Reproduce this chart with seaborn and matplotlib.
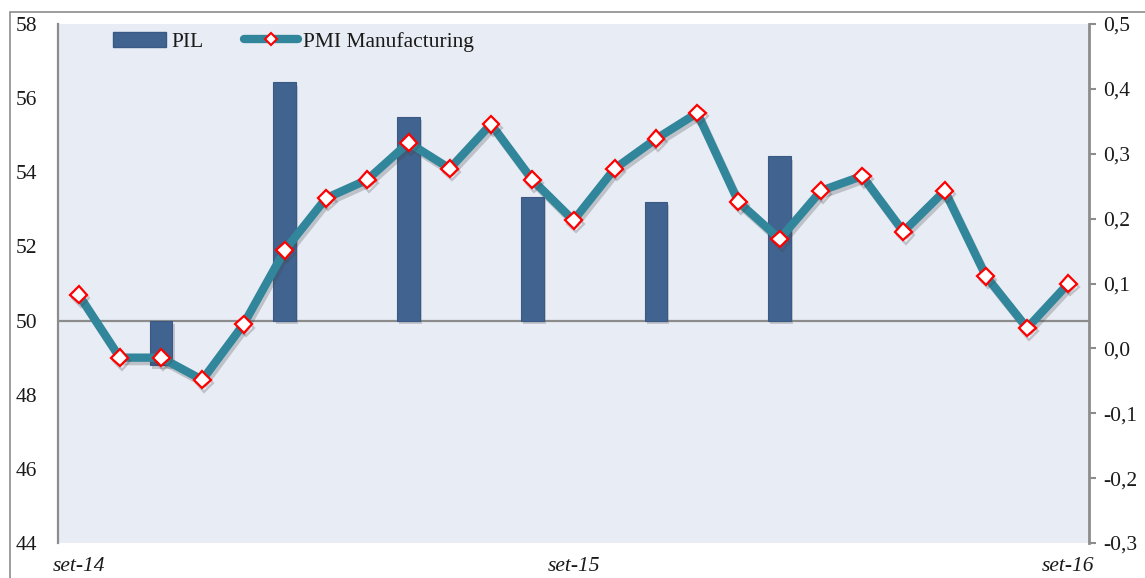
import numpy as np
import pandas as pd
import matplotlib
matplotlib.use("Agg")
import matplotlib.pyplot as plt
import matplotlib.patheffects as pe
from matplotlib.patches import Rectangle
from matplotlib.lines import Line2D
from matplotlib.ticker import FuncFormatter
import seaborn as sns

# ---- data ----
months = ["set-14", "ott-14", "nov-14", "dic-14", "gen-15", "feb-15", "mar-15", "apr-15",
          "mag-15", "giu-15", "lug-15", "ago-15", "set-15", "ott-15", "nov-15", "dic-15",
          "gen-16", "feb-16", "mar-16", "apr-16", "mag-16", "giu-16", "lug-16", "ago-16", "set-16"]
pmi = [50.7, 49.0, 49.0, 48.4, 49.9, 51.9, 53.3, 53.8, 54.8, 54.1, 55.3, 53.8, 52.7,
       54.1, 54.9, 55.6, 53.2, 52.2, 53.5, 53.9, 52.4, 53.5, 51.2, 49.8, 51.0]
pil_months = ["nov-14", "feb-15", "mag-15", "ago-15", "nov-15", "feb-16"]
pil = [-0.026, 0.41, 0.357, 0.234, 0.226, 0.296]
xtick_labels = ["set-14", "set-15", "set-16"]
left_ticks = [44, 46, 48, 50, 52, 54, 56, 58]
right_ticks = [-0.3, -0.2, -0.1, 0.0, 0.1, 0.2, 0.3, 0.4, 0.5]

sns.set_style("white")
plt.rcParams["font.family"] = ["Liberation Serif", "DejaVu Serif"]
FS = 15.5
TXT = "#1a1a1a"

W, H = 1145, 578
fig = plt.figure(figsize=(W / 100, H / 100), dpi=100)
left, right, bottom, top = 58, 1089, 543, 24
ax = fig.add_axes([left / W, 1 - bottom / H, (right - left) / W, (bottom - top) / H])
ax2 = ax.twinx()
ax.set_zorder(2)
ax2.set_zorder(1)
ax.patch.set_visible(False)
ax2.patch.set_visible(True)
ax2.patch.set_facecolor("#E8ECF4")

lmin, lmax = 44, 58
rmin, rmax = -0.3, 0.5
ax.set_ylim(lmin, lmax)
ax2.set_ylim(rmin, rmax)
ax.set_xlim(-0.5, len(months) - 0.5)

x_pos = {m: i for i, m in enumerate(months)}
# baseline for bars: where left-axis 50 sits on the right scale
baseline = rmin + (50 - lmin) / (lmax - lmin) * (rmax - rmin)

bar_color = "#41638F"
bx = [x_pos[m] for m in pil_months]
bars = ax2.bar(bx, [v - baseline for v in pil], bottom=baseline, width=0.55,
               color=bar_color, edgecolor="#3A5A85", linewidth=0.8, zorder=3)
for b in bars:
    b.set_path_effects([pe.SimplePatchShadow(offset=(1.5, -2.5), alpha=0.25, shadow_rgbFace="#555555"),
                        pe.Normal()])

# horizontal line at 50
ax2.axhline(baseline, color="#8C8C8C", lw=1.6, zorder=2)

df = pd.DataFrame({"x": np.arange(len(months)), "pmi": pmi})
line_color = "#31869B"
sns.lineplot(data=df, x="x", y="pmi", ax=ax, color=line_color, lw=6.0,
             marker="D", markersize=8.6, markerfacecolor="white",
             markeredgecolor="#FF0000", markeredgewidth=1.6, zorder=5,
             legend=False,
             path_effects=[pe.SimpleLineShadow(offset=(1.5, -2.5), alpha=0.25, shadow_color="#444444"),
                           pe.Normal()])

# axes styling
for s in ["top", "bottom"]:
    ax.spines[s].set_visible(False)
    ax2.spines[s].set_visible(False)
ax.spines["right"].set_visible(False)
ax2.spines["left"].set_visible(False)
ax.spines["left"].set_color("#8C8C8C")
ax.spines["left"].set_linewidth(1.6)
ax2.spines["right"].set_color("#8C8C8C")
ax2.spines["right"].set_linewidth(2.0)

ax.set_yticks(left_ticks)
ax.set_yticklabels([str(t) for t in left_ticks])
ax.tick_params(axis="y", left=False, length=0, pad=15, labelsize=FS, labelcolor=TXT)
ax2.set_yticks(right_ticks)
ax2.yaxis.set_major_formatter(FuncFormatter(lambda v, p: f"{v:.1f}".replace(".", ",").replace("-0,0", "0,0")))
ax2.tick_params(axis="y", right=True, length=5, width=1.5, color="#8C8C8C", pad=5,
                labelsize=FS, labelcolor=TXT)

ax.set_xticks([x_pos[m] for m in xtick_labels])
ax.set_xticklabels(xtick_labels, fontstyle="italic")
ax.tick_params(axis="x", bottom=False, length=0, pad=10, labelsize=FS, labelcolor=TXT)
ax.set_xlabel("")
ax.set_ylabel("")
ax2.set_ylabel("")
ax.grid(False)
ax2.grid(False)

# legend
h1 = Rectangle((0, 0), 1, 1, facecolor=bar_color, edgecolor="#3A5A85")
h2 = Line2D([], [], color=line_color, lw=6.0, marker="D", markersize=6,
            markerfacecolor="white", markeredgecolor="#FF0000", markeredgewidth=1.5,
            solid_capstyle="round")
leg = ax.legend([h1, h2], ["PIL", "PMI Manufacturing"], loc="upper left",
                bbox_to_anchor=(0.053, 0.985), ncol=2, frameon=False, fontsize=FS,
                handlelength=2.5, handletextpad=0.22, columnspacing=1.9, borderaxespad=0.0,
                borderpad=0.0)
for t in leg.get_texts():
    t.set_color(TXT)

# outer chart border
fig.patches.append(Rectangle((10 / W, -0.2), 2.0, (H - 12) / H + 0.2, transform=fig.transFigure,
                             fill=False, edgecolor="#8C8C8C", lw=1.2))

fig.savefig("out.png", dpi=100)
